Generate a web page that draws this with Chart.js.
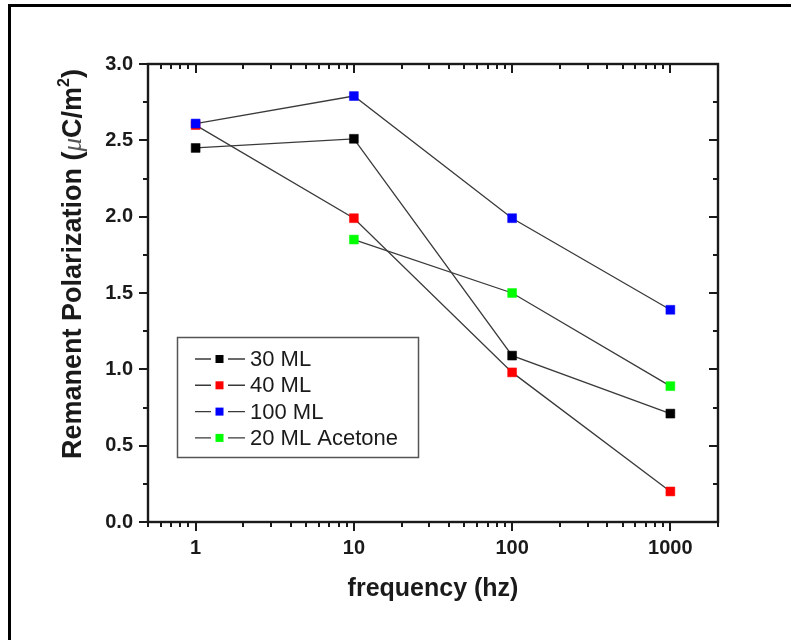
<!doctype html>
<html lang="en">
<head>
<meta charset="utf-8">
<title>Remanent Polarization vs frequency</title>
<script src="https://cdn.jsdelivr.net/npm/chart.js@4.4.0/dist/chart.umd.min.js"></script>
<style>
    body { margin: 0; background: #fff; }
    .frame {
        position: absolute; left: 8px; top: 4px; width: 783px; height: 636px;
        border-top: 3px solid #000; border-left: 3px solid #000; box-sizing: border-box;
    }
    #chart { position: absolute; left: 0; top: 0; }
</style>
</head>
<body>
<div class="frame"></div>
<canvas id="chart" width="791" height="640"></canvas>

<script>
    // values
    const frequencies = [1, 10, 100, 1000];
    const ml30 = [2.45, 2.51, 1.09, 0.71];
    const ml40 = [2.60, 1.99, 0.98, 0.20];
    const ml100 = [2.61, 2.79, 1.99, 1.39];
    const acetone20 = [null, 1.85, 1.50, 0.89];

    const seriesNames = ['30 ML', '40 ML', '100 ML', '20 ML Acetone'];
    const seriesColors = ['#000000', '#ff0000', '#0000ff', '#00ff00'];
    const drawOrder = [1, 2, 0, 3];

    const xTickLabels = [1, 10, 100, 1000];
    const yTickLabels = [0, 0.5, 1.0, 1.5, 2.0, 2.5, 3.0];

    const FONT = '"Liberation Sans", Arial, sans-serif';
    const INK = '#1a1a1a';

    function toPoints(values) {
        let pts = [];
        values.forEach(function (v, i) {
            if (v !== null) {
                pts.push({x: frequencies[i], y: v});
            }
        });
        return pts;
    }

    let datasets = [ml30, ml40, ml100, acetone20].map(function (values, i) {
        return {
            label: seriesNames[i],
            data: toPoints(values),
            order: drawOrder[i],
            borderColor: '#3a3a3a',
            borderWidth: 1.3,
            pointStyle: 'rect',
            pointRadius: 6.3,
            pointHoverRadius: 6.3,
            pointBackgroundColor: seriesColors[i],
            pointBorderColor: seriesColors[i],
            pointBorderWidth: 0.5,
            tension: 0
        };
    });

    // axis frame with Origin-like ticks: out on left/bottom, in on top/right
    const frameTicks = {
        id: 'frameTicks',
        beforeDatasetsDraw(chart) {
            const ctx = chart.ctx;
            const a = chart.chartArea;
            const xs = chart.scales.x;
            const ys = chart.scales.y;
            const major = 9, minor = 5;
            ctx.save();
            ctx.strokeStyle = INK;
            ctx.lineWidth = 2;

            let xTicks = [];
            [0.1, 1, 10, 100, 1000].forEach(function (d) {
                for (let k = 1; k <= 9; k++) {
                    let v = Math.round(k * d * 1000) / 1000;
                    if (v >= xs.min && v <= xs.max) {
                        xTicks.push({v: v, big: xTickLabels.indexOf(v) >= 0});
                    }
                }
            });
            xTicks.forEach(function (t) {
                let px = Math.round(xs.getPixelForValue(t.v));
                let len = t.big ? major : minor;
                ctx.beginPath();
                ctx.moveTo(px, a.bottom); ctx.lineTo(px, a.bottom + len);
                ctx.moveTo(px, a.top); ctx.lineTo(px, a.top + len);
                ctx.stroke();
            });

            for (let v = ys.min; v <= ys.max + 1e-9; v += 0.25) {
                let py = Math.round(ys.getPixelForValue(v));
                let len = Math.abs(v * 2 - Math.round(v * 2)) < 1e-6 ? major : minor;
                ctx.beginPath();
                ctx.moveTo(a.left, py); ctx.lineTo(a.left - len, py);
                ctx.moveTo(a.right, py); ctx.lineTo(a.right - len, py);
                ctx.stroke();
            }

            ctx.lineWidth = 2.4;
            ctx.strokeRect(a.left, a.top, a.right - a.left, a.bottom - a.top);
            ctx.restore();
        }
    };

    // y title with italic mu and superscript 2
    const yTitle = {
        id: 'yTitle',
        afterDraw(chart) {
            const ctx = chart.ctx;
            const bold = 'bold 27px ' + FONT;
            const parts = [
                {t: 'Remanent Polarization (', f: bold},
                {t: 'μ', f: 'italic 27px "Liberation Serif", serif', c: '#555'},
                {t: 'C/m', f: bold},
                {t: '2', f: 'bold 16px ' + FONT, dy: -12},
                {t: ')', f: bold}
            ];
            let total = 0;
            parts.forEach(function (p) {
                ctx.font = p.f;
                p.w = ctx.measureText(p.t).width;
                total += p.w;
            });
            ctx.save();
            ctx.translate(81, 264);
            ctx.rotate(-Math.PI / 2);
            ctx.textBaseline = 'alphabetic';
            let x = -total / 2;
            parts.forEach(function (p) {
                ctx.font = p.f;
                ctx.fillStyle = p.c || INK;
                ctx.fillText(p.t, x, p.dy || 0);
                x += p.w;
            });
            ctx.restore();
        }
    };

    // boxed legend inside the plot
    const boxLegend = {
        id: 'boxLegend',
        afterDraw(chart) {
            const ctx = chart.ctx;
            ctx.save();
            ctx.strokeStyle = '#555';
            ctx.lineWidth = 1.5;
            ctx.strokeRect(177.5, 337.5, 241, 120);
            ctx.font = '22px ' + FONT;
            ctx.textBaseline = 'middle';
            chart.data.datasets.forEach(function (ds, i) {
                let y = 359 + i * 26.3;
                ctx.strokeStyle = '#3a3a3a';
                ctx.lineWidth = 1.4;
                ctx.beginPath();
                ctx.moveTo(195, y); ctx.lineTo(211, y);
                ctx.moveTo(228, y); ctx.lineTo(245, y);
                ctx.stroke();
                ctx.fillStyle = ds.pointBackgroundColor;
                ctx.fillRect(215.5, y - 4, 8, 8);
                ctx.fillStyle = INK;
                ctx.fillText(ds.label, 250, y + 1);
            });
            ctx.restore();
        }
    };

    new Chart(document.getElementById('chart'), {
        type: 'line',
        data: {datasets: datasets},
        options: {
            responsive: false,
            animation: false,
            devicePixelRatio: 1,
            layout: {padding: {top: 64, right: 73, left: 0, bottom: 0}},
            plugins: {
                legend: {display: false},
                tooltip: {enabled: false}
            },
            scales: {
                x: {
                    type: 'logarithmic',
                    min: 0.5,
                    max: 2000,
                    afterBuildTicks: function (scale) {
                        scale.ticks = xTickLabels.map(function (v) { return {value: v, major: true}; });
                    },
                    afterFit: function (scale) { scale.height = 118; },
                    grid: {display: false, drawTicks: false},
                    border: {display: false},
                    ticks: {
                        autoSkip: false,
                        maxRotation: 0,
                        padding: 14,
                        color: INK,
                        font: {family: FONT, size: 20, weight: 'bold'},
                        callback: function (v) { return String(v); }
                    },
                    title: {
                        display: true,
                        text: 'frequency (hz)',
                        color: INK,
                        font: {family: FONT, size: 25, weight: 'bold'},
                        padding: {top: 0, bottom: 36}
                    }
                },
                y: {
                    type: 'linear',
                    min: 0,
                    max: 3,
                    afterBuildTicks: function (scale) {
                        scale.ticks = yTickLabels.map(function (v) { return {value: v}; });
                    },
                    afterFit: function (scale) { scale.width = 148; },
                    grid: {display: false, drawTicks: false},
                    border: {display: false},
                    ticks: {
                        padding: 15,
                        color: INK,
                        font: {family: FONT, size: 20, weight: 'bold'},
                        callback: function (v) { return Number(v).toFixed(1); }
                    }
                }
            }
        },
        plugins: [frameTicks, yTitle, boxLegend]
    });
</script>
</body>
</html>
